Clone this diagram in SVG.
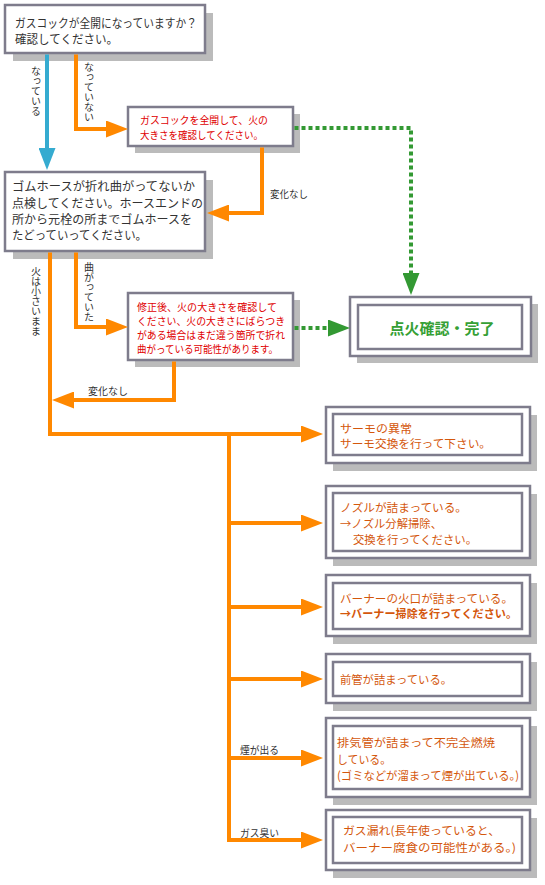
<svg xmlns="http://www.w3.org/2000/svg" width="545" height="885" viewBox="0 0 545 885">
<defs>
<style>
text { font-family: "Noto Sans CJK JP", "Noto Sans", sans-serif; dominant-baseline: central; }
.box { fill: #fff; stroke: #7e7c8c; stroke-width: 2.5; }
.shadow { fill: #bbbbbb; }
.dark { fill: #333; font-size: 12px; }
.red { fill: #e00000; font-size: 10.5px; }
.org { fill: #d4570c; font-size: 11.5px; }
.lbl { fill: #333; font-size: 10px; }
.vl { writing-mode: tb; dominant-baseline: auto; }
.done { fill: #36a035; font-size: 15px; font-weight: bold; }
.orange { fill: none; stroke: #ff8800; stroke-width: 4; stroke-linejoin: miter; }
.blue { fill: none; stroke: #35abd0; stroke-width: 4; }
.green { fill: none; stroke: #339933; stroke-width: 4; stroke-dasharray: 4 3; }
</style>
<marker id="ao" markerUnits="userSpaceOnUse" markerWidth="22" markerHeight="17" viewBox="0 0 22 17" refX="10" refY="8.5" orient="auto"><path d="M0,0 L22,8.5 L0,17 z" fill="#ff8800"/></marker>
<marker id="ab" markerUnits="userSpaceOnUse" markerWidth="22" markerHeight="17" viewBox="0 0 22 17" refX="10" refY="8.5" orient="auto"><path d="M0,0 L22,8.5 L0,17 z" fill="#35abd0"/></marker>
<marker id="ag" markerUnits="userSpaceOnUse" markerWidth="22" markerHeight="17" viewBox="0 0 22 17" refX="10" refY="8.5" orient="auto"><path d="M0,0 L22,8.5 L0,17 z" fill="#339933"/></marker>
</defs>
<rect width="545" height="885" fill="#fff"/>

<g id="n-check">
<rect class="shadow" x="13" y="13" width="200" height="48"/>
<rect class="box" x="5" y="5" width="200" height="48"/>
<text class="dark" x="15" y="22" textLength="182" lengthAdjust="spacingAndGlyphs">ガスコックが全開になっていますか？</text>
<text class="dark" x="15" y="38" textLength="103" lengthAdjust="spacingAndGlyphs">確認してください。</text>
</g>

<g id="n-open">
<rect class="shadow" x="135" y="114" width="165" height="39"/>
<rect class="box" x="128" y="107" width="165" height="39"/>
<text class="red" x="140" y="119" textLength="128" lengthAdjust="spacingAndGlyphs">ガスコックを全開して、火の</text>
<text class="red" x="140" y="134" textLength="123" lengthAdjust="spacingAndGlyphs">大きさを確認してください。</text>
</g>

<g id="n-hose">
<rect class="shadow" x="13" y="180" width="200" height="79"/>
<rect class="box" x="5" y="172" width="200" height="79"/>
<text class="dark" x="12" y="185" textLength="183" lengthAdjust="spacingAndGlyphs">ゴムホースが折れ曲がってないか</text>
<text class="dark" x="12" y="202" textLength="191" lengthAdjust="spacingAndGlyphs">点検してください。ホースエンドの</text>
<text class="dark" x="12" y="218" textLength="180" lengthAdjust="spacingAndGlyphs">所から元栓の所までゴムホースを</text>
<text class="dark" x="12" y="234" textLength="135" lengthAdjust="spacingAndGlyphs">たどっていってください。</text>
</g>

<g id="n-fixed">
<rect class="shadow" x="135" y="300" width="165" height="67"/>
<rect class="box" x="128" y="293" width="165" height="67"/>
<text class="red" x="137" y="306" textLength="140" lengthAdjust="spacingAndGlyphs">修正後、火の大きさを確認して</text>
<text class="red" x="137" y="320" textLength="148" lengthAdjust="spacingAndGlyphs">ください、火の大きさにばらつき</text>
<text class="red" x="137" y="334" textLength="148" lengthAdjust="spacingAndGlyphs">がある場合はまだ違う箇所で折れ</text>
<text class="red" x="137" y="348" textLength="141" lengthAdjust="spacingAndGlyphs">曲がっている可能性があります。</text>
</g>

<g id="n-done">
<rect class="shadow" x="357" y="304" width="181" height="59"/>
<rect class="box" x="350" y="297" width="181" height="59"/>
<rect class="box" x="358" y="305" width="164" height="44"/>
<text class="done" x="442" y="327" text-anchor="middle">点火確認・完了</text>
</g>

<g id="n-thermo">
<rect class="shadow" x="333" y="415" width="204" height="56"/>
<rect class="box" x="326" y="407" width="204" height="56"/>
<rect class="box" x="333" y="414" width="189" height="41"/>
<text class="org" x="340" y="428" textLength="72" lengthAdjust="spacingAndGlyphs">サーモの異常</text>
<text class="org" x="340" y="443" textLength="151" lengthAdjust="spacingAndGlyphs">サーモ交換を行って下さい。</text>
</g>

<g id="n-nozzle">
<rect class="shadow" x="333" y="494" width="204" height="72"/>
<rect class="box" x="326" y="486" width="204" height="72"/>
<rect class="box" x="333" y="493" width="189" height="58"/>
<text class="org" x="340" y="507" textLength="127" lengthAdjust="spacingAndGlyphs">ノズルが詰まっている。</text>
<text class="org" x="340" y="523" textLength="102" lengthAdjust="spacingAndGlyphs">→ノズル分解掃除、</text>
<text class="org" x="353" y="539" textLength="124" lengthAdjust="spacingAndGlyphs">交換を行ってください。</text>
</g>

<g id="n-burner">
<rect class="shadow" x="333" y="583" width="204" height="61"/>
<rect class="box" x="326" y="575" width="204" height="61"/>
<rect class="box" x="333" y="583" width="189" height="46"/>
<text class="org" x="340" y="598" textLength="173" lengthAdjust="spacingAndGlyphs">バーナーの火口が詰まっている。</text>
<text class="org" x="340" y="613" font-weight="bold" textLength="177" lengthAdjust="spacingAndGlyphs">→バーナー掃除を行ってください。</text>
</g>

<g id="n-pipe">
<rect class="shadow" x="333" y="662" width="204" height="49"/>
<rect class="box" x="326" y="654" width="204" height="49"/>
<rect class="box" x="333" y="662" width="189" height="34"/>
<text class="org" x="340" y="679" textLength="112" lengthAdjust="spacingAndGlyphs">前管が詰まっている。</text>
</g>

<g id="n-exhaust">
<rect class="shadow" x="333" y="726" width="204" height="79"/>
<rect class="box" x="326" y="718" width="204" height="79"/>
<rect class="box" x="333" y="726" width="189" height="63"/>
<text class="org" x="337" y="742" textLength="158" lengthAdjust="spacingAndGlyphs">排気管が詰まって不完全燃焼</text>
<text class="org" x="337" y="759" textLength="54" lengthAdjust="spacingAndGlyphs">している。</text>
<text class="org" x="337" y="775" textLength="182" lengthAdjust="spacingAndGlyphs">(ゴミなどが溜まって煙が出ている。)</text>
</g>

<g id="n-leak">
<rect class="shadow" x="333" y="818" width="204" height="60"/>
<rect class="box" x="326" y="810" width="204" height="60"/>
<rect class="box" x="333" y="817" width="189" height="46"/>
<text class="org" x="343" y="830" textLength="157" lengthAdjust="spacingAndGlyphs">ガス漏れ(長年使っていると、</text>
<text class="org" x="343" y="847" textLength="173" lengthAdjust="spacingAndGlyphs">バーナー腐食の可能性がある。)</text>
</g>

<g id="connectors">
<path class="blue" d="M47,54.5 V158" marker-end="url(#ab)"/>
<path class="orange" d="M76,54.5 V129 H116" marker-end="url(#ao)"/>
<path class="orange" d="M262,147.5 V213 H219" marker-end="url(#ao)"/>
<path class="orange" d="M76,252.5 V327 H116" marker-end="url(#ao)"/>
<path class="orange" d="M174,361.5 V400 H64" marker-end="url(#ao)"/>
<path class="orange" d="M50,252.5 V434 H311" marker-end="url(#ao)"/>
<path class="orange" d="M229,434 V840 H311" marker-end="url(#ao)"/>
<path class="orange" d="M229,523 H311" marker-end="url(#ao)"/>
<path class="orange" d="M229,607 H311" marker-end="url(#ao)"/>
<path class="orange" d="M229,679 H311" marker-end="url(#ao)"/>
<path class="orange" d="M229,758 H311" marker-end="url(#ao)"/>
<path class="green" d="M294.5,128 H411 V283" marker-end="url(#ag)"/>
<path class="green" d="M294.5,328 H338" marker-end="url(#ag)"/>
<text class="lbl vl" x="36" y="66">なっている</text>
<text class="lbl vl" x="89" y="62" font-size="9.5">なっていない</text>
<text class="lbl vl" x="36" y="266">火は小さいまま</text>
<text class="lbl vl" x="89" y="262" font-size="9.5">曲がっていた</text>
<text class="lbl" x="270" y="193" textLength="38" lengthAdjust="spacingAndGlyphs">変化なし</text>
<text class="lbl" x="88" y="390" textLength="40" lengthAdjust="spacingAndGlyphs">変化なし</text>
<text class="lbl" x="240" y="749" textLength="39" lengthAdjust="spacingAndGlyphs">煙が出る</text>
<text class="lbl" x="240" y="832" textLength="39" lengthAdjust="spacingAndGlyphs">ガス臭い</text>
</g>
</svg>
